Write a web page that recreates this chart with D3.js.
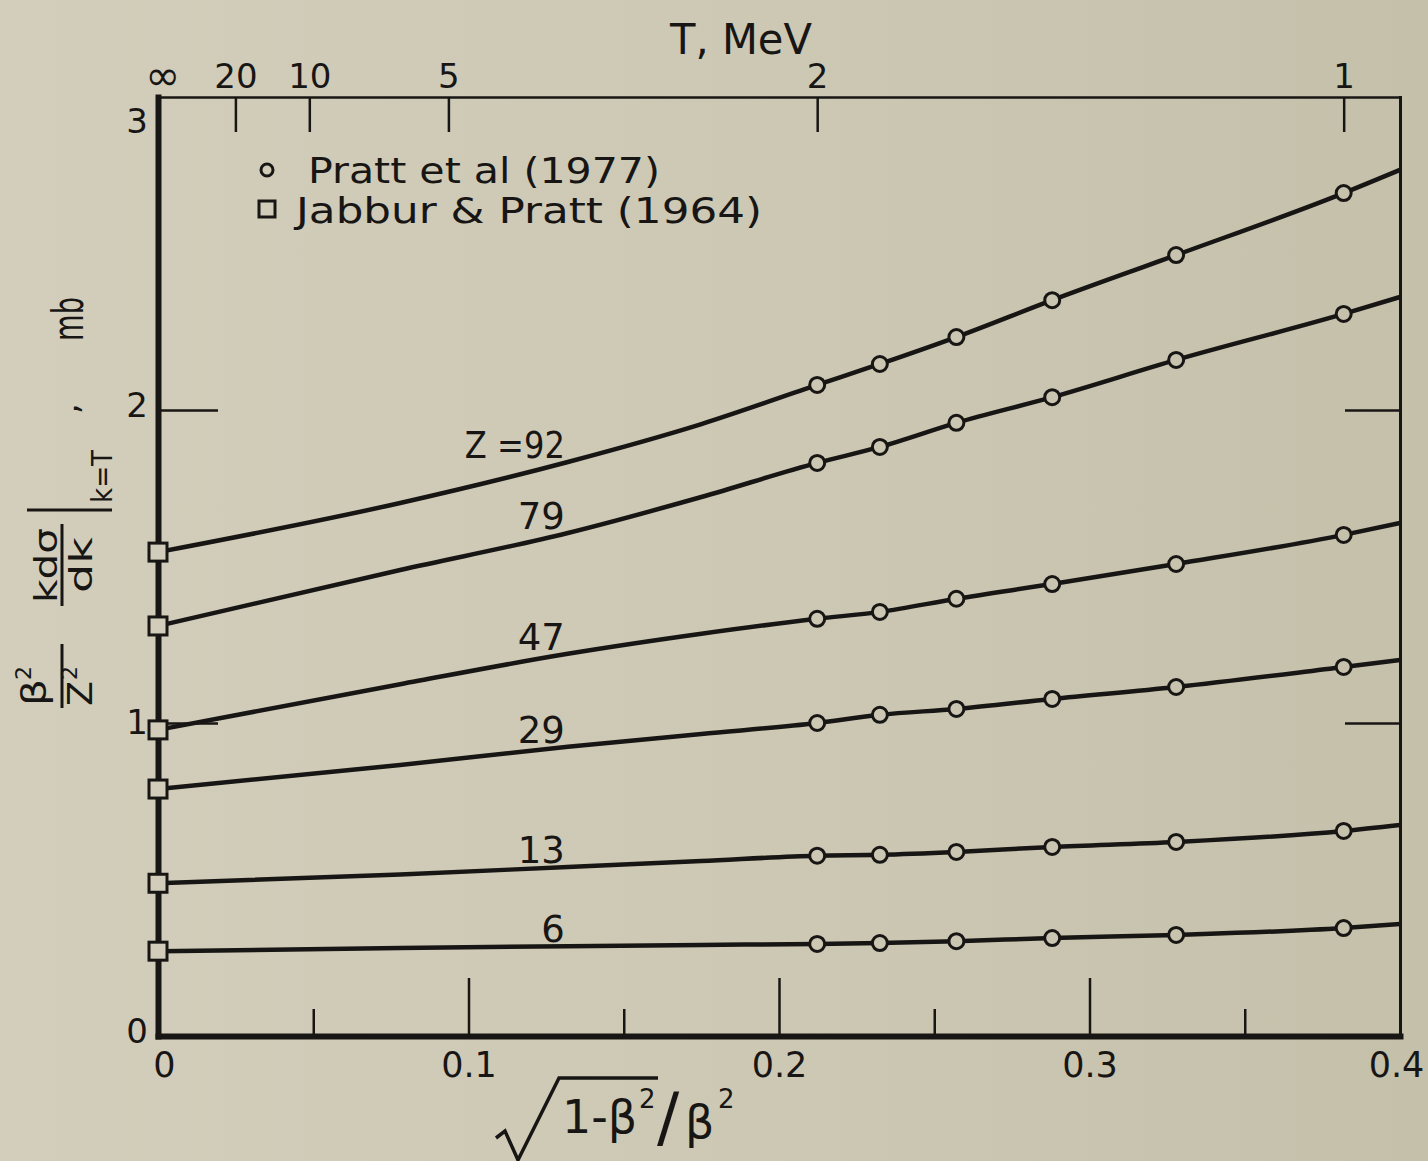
<!DOCTYPE html>
<html>
<head>
<meta charset="utf-8">
<script src="https://cdn.jsdelivr.net/npm/d3@7"></script>
<style>
  html, body { margin: 0; padding: 0; background: #ccc7b3; }
  svg { display: block; }
  text { font-family: 'DejaVu Sans', sans-serif; fill: #181614; }
</style>
</head>
<body>
<svg id="chart" width="1428" height="1161"></svg>
<script>
// Kinetic energies of the Pratt et al. (1977) calculations, MeV
const prattEnergies = [2, 1.8, 1.6, 1.4, 1.2, 1.0];
// Atomic numbers of the curves, top to bottom
const atomicNumbers = [92, 79, 47, 29, 13, 6];
// beta^2/Z^2 k dsigma/dk at k = T, mb (Pratt et al. 1977)
const prattZ92 = [2.080, 2.147, 2.233, 2.351, 2.495, 2.693];
const prattZ79 = [1.831, 1.882, 1.959, 2.041, 2.160, 2.307];
const prattZ47 = [1.333, 1.355, 1.397, 1.444, 1.508, 1.601];
const prattZ29 = [1.000, 1.026, 1.045, 1.077, 1.115, 1.179];
const prattZ13 = [0.576, 0.579, 0.588, 0.604, 0.620, 0.655];
const prattZ6  = [0.294, 0.297, 0.303, 0.313, 0.323, 0.345];
// Jabbur & Pratt (1964) high-energy limit (T = infinity), same Z order
const jabburLimit = [1.546, 1.310, 0.978, 0.789, 0.488, 0.271];
// Smooth curves joining the two sets of results
const fitX = [0.078, 0.132, 0.175];
const fitZ92 = [1.703, 1.834, 1.955];
const fitZ79 = [1.489, 1.607, 1.722];
const fitZ47 = [1.124, 1.221, 1.285];
const fitZ29 = [0.866, 0.924, 0.965];
const fitZ13 = [0.516, 0.540, 0.559];
const fitZ6  = [0.281, 0.287, 0.291];
const edgeX = 0.4;
const edgeValues = [2.767, 2.361, 1.639, 1.201, 0.674, 0.358];
// Axis ticks
const topTickEnergies = [Infinity, 20, 10, 5, 2, 1];
const topTickLabels = ["\u221E", "20", "10", "5", "2", "1"];
const xMajorTicks = [0, 0.1, 0.2, 0.3, 0.4];
const xMajorLabels = ["0", "0.1", "0.2", "0.3", "0.4"];
const xMinorTicks = [0.05, 0.15, 0.25, 0.35];
const yTicks = [0, 1, 2, 3];
const yTickLabels = ["0", "1", "2", "3"];

const prattSeries = [prattZ92, prattZ79, prattZ47, prattZ29, prattZ13, prattZ6];
const fitSeries = [fitZ92, fitZ79, fitZ47, fitZ29, fitZ13, fitZ6];

// Abscissa sqrt(1 - beta^2)/beta^2 for an electron of kinetic energy T (MeV)
const ELECTRON_MASS = 0.511;
function abscissa(T) {
  if (!isFinite(T)) return 0;
  const g = 1 + T / ELECTRON_MASS;
  return g / (g * g - 1);
}

const ink = "#181614";
const svg = d3.select("#chart");

const defs = svg.append("defs");
const paper = defs.append("linearGradient")
  .attr("id", "paper").attr("gradientUnits", "userSpaceOnUse")
  .attr("x1", 0).attr("y1", 0).attr("x2", 1428).attr("y2", 0);
paper.append("stop").attr("offset", 0).attr("stop-color", "#d3cebb");
paper.append("stop").attr("offset", 0.55).attr("stop-color", "#cdc8b4");
paper.append("stop").attr("offset", 1).attr("stop-color", "#c5c0aa");

svg.append("rect").attr("width", 1428).attr("height", 1161).attr("fill", "url(#paper)");

const x = d3.scaleLinear().domain([0, 0.4]).range([158, 1400]);
const y = d3.scaleLinear().domain([0, 3]).range([1036, 97]);

// ---- curves ----
const line = d3.line()
  .x(d => x(d[0])).y(d => y(d[1]))
  .curve(d3.curveMonotoneX);

const curves = atomicNumbers.map((z, i) => {
  const pts = [[0, jabburLimit[i]]];
  fitX.forEach((fx, j) => pts.push([fx, fitSeries[i][j]]));
  prattEnergies.forEach((T, j) => pts.push([abscissa(T), prattSeries[i][j]]));
  pts.push([edgeX, edgeValues[i]]);
  return pts;
});

svg.append("g").selectAll("path").data(curves).join("path")
  .attr("d", line)
  .attr("fill", "none").attr("stroke", ink)
  .attr("stroke-width", 4.5).attr("stroke-linejoin", "round");

// curve labels, right-aligned just above each curve
const curveLabels = svg.append("g").selectAll("text").data(atomicNumbers).join("text")
  .attr("x", x(fitX[1]) - 3)
  .attr("y", (z, i) => y(fitSeries[i][1]) - 4)
  .attr("text-anchor", "end")
  .attr("font-size", 37)
  .text((z, i) => i === 0 ? "Z =" + z : String(z));
curveLabels.filter((z, i) => i === 0)
  .attr("textLength", 100).attr("lengthAdjust", "spacingAndGlyphs");

// ---- axes ----
function styleAxis(g, width) {
  g.select(".domain").attr("stroke", ink).attr("stroke-width", width).attr("stroke-linecap", "square");
  g.selectAll(".tick line").attr("stroke", ink).attr("stroke-width", 2.5);
  g.selectAll(".tick text").attr("fill", ink).attr("font-family", "'DejaVu Sans', sans-serif");
}

// top: kinetic energy scale
const gTop = svg.append("g").attr("transform", `translate(0,${y(3)})`)
  .call(d3.axisTop(x)
    .tickValues(topTickEnergies.map(abscissa))
    .tickFormat((d, i) => topTickLabels[i])
    .tickSizeInner(-35).tickSizeOuter(0).tickPadding(9));
styleAxis(gTop, 2.5);
gTop.selectAll(".tick text").attr("font-size", 34);
gTop.selectAll(".tick").filter(d => d === 0).select("line").remove();
gTop.selectAll(".tick").filter(d => d === 0).select("text").attr("font-size", 42).attr("dx", 4).attr("dy", 2);

svg.append("text").attr("x", 670).attr("y", 54).attr("font-size", 42)
  .attr("textLength", 142).attr("lengthAdjust", "spacingAndGlyphs").text("T, MeV");

// right frame with inward ticks
const gRight = svg.append("g").attr("transform", `translate(${x(0.4)},0)`)
  .call(d3.axisRight(y).tickValues(yTicks).tickFormat("").tickSizeInner(-55).tickSizeOuter(0));
styleAxis(gRight, 3);
gRight.selectAll(".tick").filter(d => d === 0 || d === 3).remove();

// bottom axis: major and minor inward ticks
const gBottomMinor = svg.append("g").attr("transform", `translate(0,${y(0)})`)
  .call(d3.axisBottom(x).tickValues(xMinorTicks).tickFormat("").tickSizeInner(-27).tickSizeOuter(0));
styleAxis(gBottomMinor, 0);
gBottomMinor.select(".domain").remove();

const gBottom = svg.append("g").attr("transform", `translate(0,${y(0)})`)
  .call(d3.axisBottom(x).tickValues(xMajorTicks)
    .tickFormat((d, i) => xMajorLabels[i])
    .tickSizeInner(-58).tickSizeOuter(0).tickPadding(16));
styleAxis(gBottom, 6);
gBottom.selectAll(".tick text").attr("font-size", 35);
gBottom.selectAll(".tick").filter(d => d === 0 || d === 0.4).select("line").remove();
gBottom.selectAll(".tick").filter(d => d === 0).select("text").attr("dx", 6);
gBottom.selectAll(".tick").filter(d => d === 0.4).select("text").attr("dx", -4);

// left axis
const gLeft = svg.append("g").attr("transform", `translate(${x(0)},0)`)
  .call(d3.axisLeft(y).tickValues(yTicks)
    .tickFormat((d, i) => yTickLabels[i])
    .tickSizeInner(-60).tickSizeOuter(0).tickPadding(10));
styleAxis(gLeft, 6);
gLeft.selectAll(".tick text").attr("font-size", 34);
gLeft.selectAll(".tick").filter(d => d === 0 || d === 3).select("line").remove();
// keep the top label clear of the energy scale
gLeft.selectAll(".tick").filter(d => d === 3).select("text").attr("dy", "1.05em");
gLeft.selectAll(".tick").filter(d => d === 0).select("text").attr("dy", "0.18em");
gLeft.selectAll(".tick").filter(d => d === 2).select("text").attr("dy", "0.18em");

// ---- markers ----
const markers = svg.append("g");
atomicNumbers.forEach((z, i) => {
  markers.selectAll(null).data(prattEnergies).join("circle")
    .attr("cx", T => x(abscissa(T)))
    .attr("cy", (T, j) => y(prattSeries[i][j]))
    .attr("r", 7.5)
    .attr("fill", "url(#paper)").attr("stroke", ink).attr("stroke-width", 3);
});
markers.selectAll("rect").data(jabburLimit).join("rect")
  .attr("x", x(0) - 9).attr("y", v => y(v) - 9)
  .attr("width", 18).attr("height", 18)
  .attr("fill", "url(#paper)").attr("stroke", ink).attr("stroke-width", 3);

// ---- legend ----
const legend = svg.append("g");
legend.append("circle").attr("cx", 267).attr("cy", 170).attr("r", 6)
  .attr("fill", "none").attr("stroke", ink).attr("stroke-width", 3);
legend.append("text").attr("x", 308).attr("y", 183).attr("font-size", 35)
  .attr("textLength", 352).attr("lengthAdjust", "spacingAndGlyphs")
  .text("Pratt et al (1977)");
legend.append("rect").attr("x", 259).attr("y", 201).attr("width", 16).attr("height", 16)
  .attr("fill", "none").attr("stroke", ink).attr("stroke-width", 3);
legend.append("text").attr("x", 296).attr("y", 223).attr("font-size", 35)
  .attr("textLength", 466).attr("lengthAdjust", "spacingAndGlyphs")
  .text("Jabbur & Pratt (1964)");

// ---- x title: sqrt(1 - beta^2)/beta^2 ----
const xTitle = svg.append("g");
xTitle.append("path")
  .attr("d", "M496,1138 L505,1131 L518,1160 L559,1078 L658,1078")
  .attr("fill", "none").attr("stroke", ink).attr("stroke-width", 3.5)
  .attr("stroke-linejoin", "miter");
const xt = xTitle.append("text").attr("y", 1133).attr("font-size", 46);
xt.append("tspan").attr("x", 562).text("1-\u03B2");
xt.append("tspan").attr("x", 639).attr("y", 1108).attr("font-size", 26).text("2");
xt.append("tspan").attr("x", 657).attr("y", 1140).attr("font-size", 66).text("/");
xt.append("tspan").attr("x", 685).attr("y", 1138).attr("font-size", 46).text("\u03B2");
xt.append("tspan").attr("x", 718).attr("y", 1108).attr("font-size", 26).text("2");

// ---- y title, rotated: beta^2/Z^2 k dsigma/dk |k=T , mb ----
const yTitle = svg.append("g").attr("transform", "rotate(-90)");
// place a piece starting at screen y = sy with baseline at screen x = sx
function yPiece(str, sy, sx, size, len) {
  const t = yTitle.append("text").attr("x", -sy).attr("y", sx).attr("font-size", size).text(str);
  if (len) t.attr("textLength", len).attr("lengthAdjust", "spacingAndGlyphs");
  return t;
}
function yBar(sx, sy0, sy1, w) {
  yTitle.append("line").attr("x1", -sy0).attr("x2", -sy1).attr("y1", sx).attr("y2", sx)
    .attr("stroke", ink).attr("stroke-width", w);
}
yPiece("\u03B2", 706, 46, 34, 27);
yPiece("2", 680, 31, 22);
yBar(62, 708, 644, 3);
yPiece("Z", 706, 92, 34, 25);
yPiece("2", 680, 77, 22);
yPiece("kd\u03C3", 603, 57, 32, 75);
yBar(62, 606, 524, 3);
yPiece("dk", 593, 92, 32, 56);
yTitle.append("line").attr("x1", -510).attr("x2", -510).attr("y1", 27).attr("y2", 112)
  .attr("stroke", ink).attr("stroke-width", 3);
yPiece("k=T", 503, 112, 28, 53);
yPiece(",", 414, 78, 34);
yPiece("mb", 341, 83, 42, 44);
</script>
</body>
</html>
